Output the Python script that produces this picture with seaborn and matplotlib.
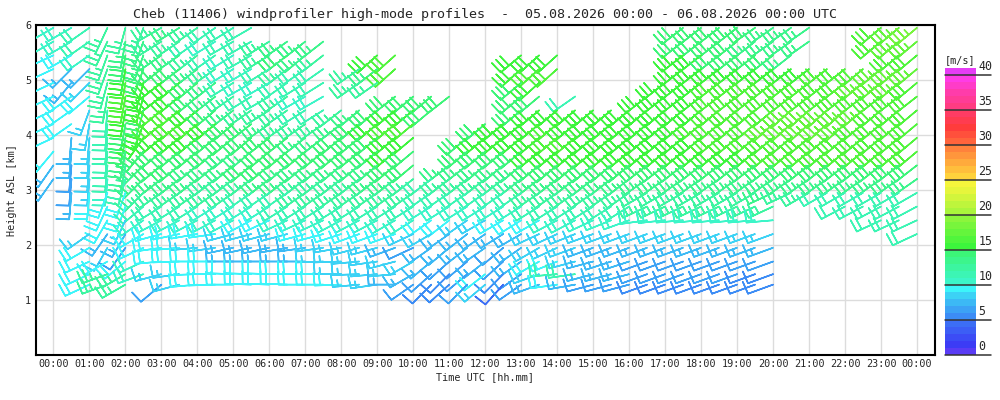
import numpy as np
import matplotlib
matplotlib.use("Agg")
import matplotlib.pyplot as plt
import seaborn as sns
from matplotlib.colors import ListedColormap, BoundaryNorm

# profile times (h UTC, every 30 min) and range gates (km ASL, top to bottom)
times = np.arange(0, 24.5, 0.5)
heights = [5.95, 5.70, 5.45, 5.20, 4.95, 4.70, 4.45, 4.20, 3.95, 3.70,
           3.45, 3.20, 2.95, 2.70, 2.45, 2.20, 1.95, 1.70, 1.47, 1.28]

# wind speed [m/s] per gate (0 = no data), columns = times
speed = [
    [10,10,11,12,12,12, 12,13,12,11,11,11,0,0,0,0,0,0,0,0,0, 0,0,0,0,0,0,0,0,0,0,0,0, 0,0,14,14,14,14,14,13,13,13,0,0,0,16,17,18],
    [10,10,11,12,13,13, 12,12,11,10,11,11,12,13,13,13,0,0,0,0,0, 0,0,0,0,0,0,0,0,0,0,0,0, 0,0,14,14,14,14,13,13,13,13,0,0,0,16,17,17],
    [9,9,10,12,14,13, 13,13,12,11,10,11,12,14,13,12,0,0,15,16,0, 0,0,0,0,0,15,15,15,0,0,0,0, 0,0,15,15,14,14,14,14,13,0,0,0,0,0,16,16],
    [9,7,7,12,15,14, 14,14,13,12,10,10,11,12,11,11,0,12,13,16,0, 0,0,0,0,0,15,16,16,0,0,0,0, 0,0,15,15,15,15,15,15,15,15,16,16,16,17,17,17],
    [9,7,8,12,16,15, 15,15,14,13,11,10,10,11,11,11,0,12,12,0,0, 0,0,0,0,0,14,15,0,0,0,0,0, 0,15,15,15,16,16,16,16,16,16,16,16,17,17,17,16],
    [9,9,9,12,16,15, 15,15,14,13,12,11,11,12,10,10,0,0,0,14,14, 14,14,0,0,0,14,14,0,11,0,0,0, 15,15,15,15,16,16,16,16,16,16,16,16,16,16,16,16],
    [9,9,8,11,15,14, 16,16,15,14,13,12,12,12,11,11,12,13,14,15,15, 14,0,0,0,0,14,15,15,15,15,15,15, 15,15,15,15,16,16,16,16,17,17,17,17,17,16,16,16],
    [9,9,8,11,14,15, 16,16,16,15,14,14,13,12,12,12,13,14,15,16,16, 0,0,0,14,15,15,15,16,15,15,15,15, 15,15,15,16,16,16,16,17,17,17,17,17,16,16,16,16],
    [9,7,8,11,14,15, 15,15,15,14,14,14,14,14,13,13,14,14,14,15,15, 0,0,14,15,15,15,15,16,16,15,15,15, 15,15,15,15,16,16,16,16,16,16,16,16,16,16,16,16],
    [9,7,8,11,13,14, 14,14,14,14,13,13,14,14,14,14,14,14,14,15,14, 0,0,14,14,14,14,15,15,15,15,15,15, 15,15,15,15,15,15,15,16,16,16,16,16,16,16,16,16],
    [7,6,8,11,12,13, 14,14,13,13,13,14,14,13,13,13,13,13,13,14,14, 0,13,13,13,13,13,14,14,14,14,14,14, 14,14,14,14,14,14,14,14,14,14,14,14,14,14,14,14],
    [7,6,8,10,11,13, 13,13,13,12,12,12,13,13,12,12,12,12,13,13,12, 11,12,12,12,12,12,13,13,13,13,13,13, 13,13,13,13,13,13,13,13,13,13,13,13,13,13,13,13],
    [0,7,9,9,9,12, 12,12,12,12,12,11,11,11,12,12,12,12,12,12,12, 11,11,11,11,11,11,12,12,12,12,12,12, 12,12,12,12,12,12,12,13,12,12,11,11,11,11,11,11],
    [0,0,0,9,9,11, 11,11,11,10,10,10,10,11,11,11,11,11,11,11,11, 10,10,10,10,10,10,11,11,11,11,11,11, 12,12,12,12,12,12,12,12,0,0,0,11,11,11,11,11],
    [0,0,0,9,8,10, 10,10,10,10,10,9,9,10,10,10,10,10,10,10,10, 9,9,8,8,9,9,9,10,10,10,10,10, 10,10,10,10,10,10,10,10,0,0,0,0,0,11,11,11],
    [0,0,8,7,7,9, 9,9,9,9,8,8,8,8,9,9,9,9,9,9,8, 8,7,7,7,7,7,8,8,8,8,8,8, 8,8,8,8,8,8,8,8,0,0,0,0,0,0,0,11],
    [0,0,9,8,6,9, 9,9,8,8,7,7,7,7,7,8,8,8,8,7,6, 7,7,7,7,6,7,8,8,8,7,7,7, 7,7,7,7,7,7,7,7,0,0,0,0,0,0,0,0],
    [0,0,9,9,9,10, 9,9,9,9,7,7,7,7,7,8,8,8,8,8,8, 7,6,6,7,6,7,9,9,8,7,7,7, 6,6,6,6,6,6,6,6,0,0,0,0,0,0,0,0],
    [0,0,9,12,12,10, 8,8,9,9,9,9,9,9,9,9,8,8,8,8,7, 6,5,6,9,5,6,8,11,11,7,7,7, 6,6,6,6,6,6,5,5,0,0,0,0,0,0,0,0],
    [0,0,9,12,12,0, 6,8,9,9,9,9,9,9,9,9,9,8,8,7,6, 5,5,6,8,4,6,7,9,7,6,6,6, 5,5,5,5,5,5,5,5,0,0,0,0,0,0,0,0],
]

# wind direction [deg, meteorological "from"] per gate
direction = [
    [240,240,235,205,195,200, 240,238,235,235,238,240,240,240,240,240,240,240,240,240,240, 235,235,235,235,235,235,235,235,235,235,235,235, 235,235,232,232,232,232,235,235,235,235,235,235,235,230,230,230],
    [240,240,235,205,190,200, 238,236,235,238,240,240,238,235,232,232,235,235,235,235,235, 235,235,235,235,235,235,235,235,235,235,235,235, 235,235,232,232,232,232,232,235,235,235,235,235,235,230,230,230],
    [245,240,235,200,190,200, 235,235,232,235,238,240,238,232,230,232,232,232,228,228,232, 232,232,232,232,232,230,228,228,232,232,232,232, 232,232,232,232,232,232,232,232,232,232,232,232,232,232,230,230],
    [245,225,225,200,190,200, 232,232,232,235,238,240,238,232,235,235,232,235,232,228,232, 232,232,232,232,232,228,228,228,232,232,232,232, 232,232,232,232,232,232,232,232,232,232,232,232,230,230,230,230],
    [245,220,225,195,190,195, 232,230,230,232,238,240,240,235,238,238,232,235,235,232,232, 232,232,232,232,232,230,228,232,232,232,232,232, 232,232,232,232,232,232,232,232,232,232,232,232,230,230,230,230],
    [245,235,230,190,190,195, 232,230,230,232,235,238,240,235,240,240,232,232,232,232,230, 230,232,232,232,232,230,230,232,235,232,232,232, 232,232,232,232,232,232,232,232,232,232,232,232,232,232,232,232],
    [245,235,200,185,190,195, 230,230,230,230,232,235,238,235,238,238,232,230,230,230,230, 230,232,232,232,232,230,230,230,230,230,230,230, 230,230,230,230,230,230,230,230,228,228,228,228,230,230,230,230],
    [245,235,190,185,190,200, 230,230,230,230,230,232,235,235,235,235,232,230,230,230,230, 232,232,232,230,230,230,230,230,230,230,230,230, 230,230,230,230,230,230,230,228,228,228,228,228,230,230,230,230],
    [245,185,185,185,190,215, 230,230,230,230,230,230,232,232,232,232,230,230,230,230,230, 232,232,230,230,230,230,230,230,230,230,230,230, 230,230,230,230,230,230,230,230,230,230,230,230,230,230,230,230],
    [220,185,185,185,190,220, 230,230,230,230,230,230,230,230,230,230,230,230,230,230,230, 232,232,230,230,230,230,230,230,230,230,230,230, 230,230,230,230,230,230,230,230,230,230,230,230,230,230,230,230],
    [215,185,185,185,190,225, 230,230,230,230,230,230,230,230,230,230,230,230,230,230,230, 232,232,232,230,230,230,230,230,230,230,230,230, 232,232,232,232,232,232,232,232,232,232,232,232,232,232,232,232],
    [215,185,185,185,195,225, 232,232,232,232,232,232,232,232,232,232,232,232,232,232,232, 232,232,232,232,232,232,232,232,232,232,232,232, 235,235,235,235,235,235,235,235,235,235,235,235,235,235,235,235],
    [215,185,185,200,200,225, 235,235,235,235,235,235,235,235,235,235,235,235,235,235,235, 235,235,235,235,235,235,235,235,235,235,235,235, 240,240,240,240,240,240,240,245,245,240,240,240,240,240,240,240],
    [230,230,230,205,200,230, 238,238,238,238,238,238,238,238,238,238,238,238,238,238,238, 238,238,238,238,238,238,238,238,238,238,238,238, 245,245,245,245,245,245,245,245,245,245,245,242,242,242,242,242],
    [230,230,230,210,205,235, 242,242,242,242,242,242,245,245,245,245,242,242,242,240,238, 235,232,235,240,240,238,240,242,242,245,248,250, 262,264,265,265,265,265,265,265,265,265,265,245,245,245,245,245],
    [230,230,235,215,210,240, 255,258,260,262,255,255,255,255,255,255,252,250,250,250,245, 240,235,232,235,238,240,245,245,248,250,250,250, 250,250,250,250,250,250,250,250,250,250,250,250,250,250,250,245],
    [240,240,240,210,215,245, 262,265,265,262,258,258,258,260,262,262,260,255,255,250,245, 235,230,232,235,230,235,240,245,250,250,250,250, 250,250,250,250,250,250,250,250,250,250,250,250,250,250,250,250],
    [240,240,245,240,230,245, 265,268,270,270,270,270,270,270,270,268,268,265,262,255,240, 230,228,230,232,228,235,240,248,255,255,252,252, 250,250,250,250,250,250,250,250,250,250,250,250,250,250,250,250],
    [240,240,245,250,240,250, 255,262,268,270,272,272,272,270,270,270,270,268,265,265,240, 228,225,230,232,225,235,250,265,262,255,255,255, 250,250,250,250,250,250,250,250,250,250,250,250,250,250,250,250],
    [240,240,245,250,240,250, 230,255,265,268,270,272,272,272,270,270,268,265,262,270,235, 225,228,225,230,222,235,250,262,260,255,255,255, 250,250,250,250,250,250,250,250,250,250,250,250,250,250,250,250],
]

# colour scale, 1 m/s steps from 0 to 41
scale_colors = [
    "#5a3cf5", "#3c3cf5", "#3c4cf5", "#3c5ef5", "#3c6ef5",
    "#3c8cf5", "#3ca2f5", "#3cb9f5", "#3cd2f5", "#3cf5fa",
    "#3cf5c8", "#3cf5b4", "#3cf5a0", "#3cf58c", "#3cf578",
    "#3cf53c", "#50f53c", "#64f53c", "#78f53c", "#8cf53c",
    "#aaf53c", "#bef53c", "#d2f53c", "#e6f53c", "#f5f53c",
    "#ffd23c", "#ffbe3c", "#ffaa3c", "#ff963c", "#ff823c",
    "#ff643c", "#ff503c", "#ff3c3c", "#ff3c50", "#ff3c64",
    "#ff3c82", "#ff3c96", "#ff3caa", "#ff3cc8", "#ff3ce6",
    "#e63cf5",
]
cb_ticks = [0, 5, 10, 15, 20, 25, 30, 35, 40]
hour_labels = ["%02d:00" % (h % 24) for h in range(25)]

sns.set_theme(style="whitegrid")
plt.rcParams['font.family'] = ['DejaVu Sans Mono']

cmap = ListedColormap(scale_colors)
norm = BoundaryNorm(np.arange(0, 42), cmap.N)

spd = np.array(speed, dtype=float)
ddir = np.radians(np.array(direction, dtype=float))
T, H = np.meshgrid(times, heights)
ok = spd > 0
u = -spd * np.sin(ddir)
v = -spd * np.cos(ddir)

fig = plt.figure(figsize=(10, 4), dpi=100)
ax = fig.add_axes([0.0355, 0.1125, 0.8995, 0.825])
ax.set_facecolor("white")
ax.grid(True, color="#dcdcdc", linewidth=1.0)
# barb size in matplotlib grows with length**2, ~6 gives a 25 px staff
ax.barbs(T[ok], H[ok], u[ok], v[ok], spd[ok], cmap=cmap, norm=norm,
         length=6.2, linewidth=1.1, pivot='tip',
         sizes=dict(spacing=0.2, height=0.48, width=0.06, emptybarb=0),
         barb_increments=dict(half=2.5, full=5, flag=25), zorder=3)

ax.set_xlim(-0.5, 24.5)
ax.set_ylim(0, 6)
ax.set_xticks(range(25))
ax.set_xticklabels(hour_labels, fontsize=7.3)
ax.set_yticks([1, 2, 3, 4, 5, 6])
ax.set_yticklabels(["1", "2", "3", "4", "5", "6"], fontsize=7.3)
ax.tick_params(length=0, pad=3)
for s in ax.spines.values():
    s.set_color("black")
    s.set_linewidth(1.5)
ax.set_xlabel("Time UTC [hh.mm]", fontsize=7.3, labelpad=2)
ax.set_ylabel("Height ASL [km]", fontsize=7.3, labelpad=6)
ax.set_title("Cheb (11406) windprofiler high-mode profiles  -  05.08.2026 00:00 - 06.08.2026 00:00 UTC",
             fontsize=9.6, pad=5)

# colour bar drawn as a one-column heatmap
cax = fig.add_axes([0.945, 0.1125, 0.031, 0.7175])
bar_vals = (np.arange(41)[::-1] + 0.5).reshape(-1, 1)
sns.heatmap(bar_vals, cmap=cmap, vmin=0, vmax=41, cbar=False,
            xticklabels=False, yticklabels=False, ax=cax)
for k in cb_ticks:
    cax.plot([0, 1.48], [41 - k, 41 - k], color="#333333", lw=1.1, clip_on=False)
    cax.text(1.08, 41 - k - 0.35, str(k), fontsize=8.4, ha="left", va="bottom")
cax.text(0.5, -0.4, "[m/s]", fontsize=7.3, ha="center", va="bottom")

fig.savefig("out.png", dpi=100, facecolor="white")
